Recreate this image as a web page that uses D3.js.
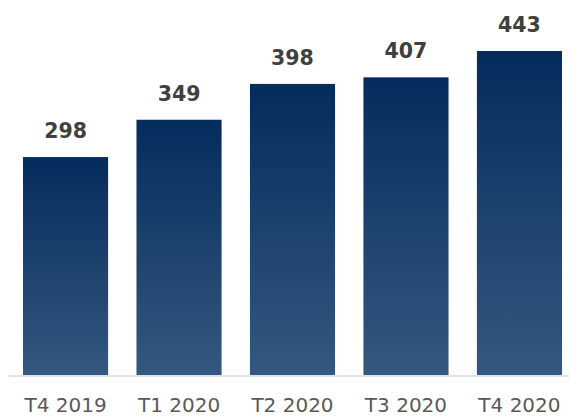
<!DOCTYPE html>
<html>
<head>
<meta charset="utf-8">
<script src="https://cdn.jsdelivr.net/npm/d3@7"></script>
<style>
  body { margin: 0; background: #fff; }
  svg { display: block; }
</style>
</head>
<body>
<div id="chart"></div>
<script>
var categories = ["T4 2019", "T1 2020", "T2 2020", "T3 2020", "T4 2020"];
var values = [298, 349, 398, 407, 443];

var width = 569;
var height = 416;
var baseline = 375;

var svg = d3.select("#chart").append("svg")
  .attr("width", width)
  .attr("height", height);

var grad = svg.append("defs").append("linearGradient")
  .attr("id", "barGrad")
  .attr("x1", 0).attr("y1", 0)
  .attr("x2", 0).attr("y2", 1);
grad.append("stop").attr("offset", "0%").attr("stop-color", "#042c5c");
grad.append("stop").attr("offset", "100%").attr("stop-color", "#34587f");

var x = d3.scaleBand()
  .domain(categories)
  .range([23, 562])
  .paddingInner(0.25)
  .paddingOuter(0);

var y = d3.scaleLinear()
  .domain([0, 443])
  .range([baseline, 51]);

var data = categories.map(function(c, i) { return {cat: c, value: values[i]}; });

// bars
svg.selectAll("rect.bar")
  .data(data)
  .enter().append("rect")
  .attr("class", "bar")
  .attr("x", function(d) { return x(d.cat); })
  .attr("y", function(d) { return y(d.value); })
  .attr("width", x.bandwidth())
  .attr("height", function(d) { return y(0) - y(d.value); })
  .attr("fill", "url(#barGrad)");

// baseline axis
svg.append("line")
  .attr("x1", 9).attr("x2", width)
  .attr("y1", baseline + 1).attr("y2", baseline + 1)
  .attr("stroke", "#d9d9d9")
  .attr("stroke-width", 1.5);

// value labels
svg.selectAll("text.val")
  .data(data)
  .enter().append("text")
  .attr("class", "val")
  .attr("x", function(d) { return x(d.cat) + x.bandwidth() / 2; })
  .attr("y", function(d) { return y(d.value) - 19; })
  .attr("text-anchor", "middle")
  .attr("font-family", "DejaVu Sans")
  .attr("font-weight", "bold")
  .attr("font-size", "20.5px")
  .attr("fill", "#404040")
  .text(function(d) { return d.value; });

// category labels
svg.selectAll("text.cat")
  .data(data)
  .enter().append("text")
  .attr("class", "cat")
  .attr("x", function(d) { return x(d.cat) + x.bandwidth() / 2; })
  .attr("y", 411.5)
  .attr("text-anchor", "middle")
  .attr("font-family", "DejaVu Sans")
  .attr("font-size", "20px")
  .attr("fill", "#595959")
  .text(function(d) { return d.cat; });
</script>
</body>
</html>
